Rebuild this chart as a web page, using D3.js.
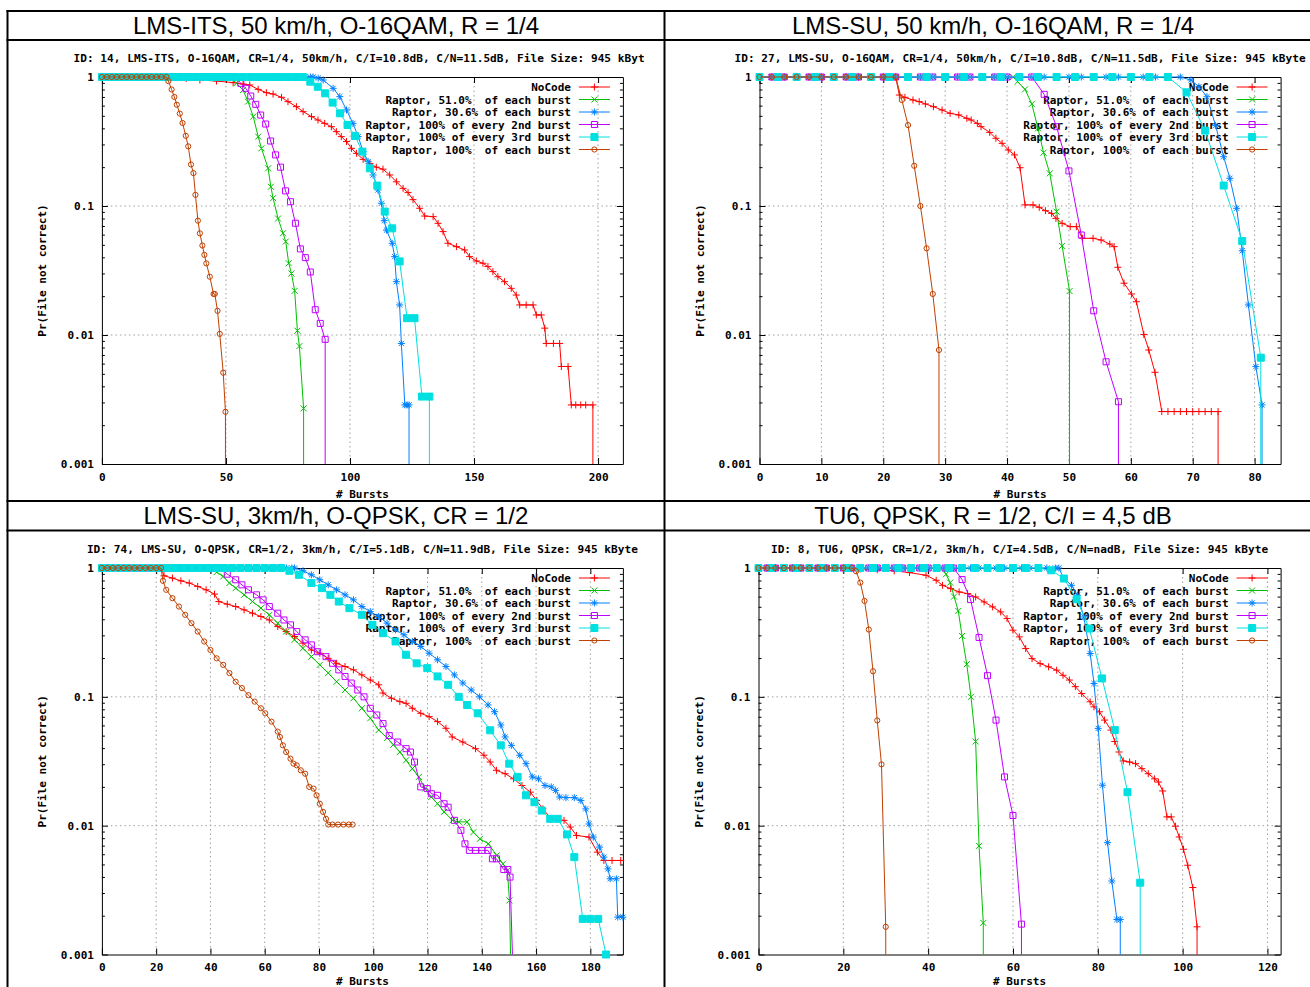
<!DOCTYPE html>
<html><head><meta charset="utf-8">
<script src="https://cdn.jsdelivr.net/npm/d3@7"></script>
<style>
html,body{margin:0;padding:0;background:#fff;}
svg{display:block;}
</style></head><body>
<svg id="chart" width="1310" height="987"></svg>
<script>
// ---------------- DATA ----------------
const panelTitles = ["LMS-ITS, 50 km/h, O-16QAM, R = 1/4","LMS-SU, 50 km/h, O-16QAM, R = 1/4","LMS-SU, 3km/h, O-QPSK, CR = 1/2","TU6, QPSK, R = 1/2, C/I = 4,5 dB"];
const panelSubtitles = [
 "ID: 14, LMS-ITS, O-16QAM, CR=1/4, 50km/h, C/I=10.8dB, C/N=11.5dB, File Size: 945 kByte",
 "ID: 27, LMS-SU, O-16QAM, CR=1/4, 50km/h, C/I=10.8dB, C/N=11.5dB, File Size: 945 kByte",
 "ID: 74, LMS-SU, O-QPSK, CR=1/2, 3km/h, C/I=5.1dB, C/N=11.9dB, File Size: 945 kByte",
 "ID: 8, TU6, QPSK, CR=1/2, 3km/h, C/I=4.5dB, C/N=nadB, File Size: 945 kByte"];
const seriesNames = ["NoCode","Raptor, 51.0%  of each burst","Raptor, 30.6% of each burst","Raptor, 100% of every 2nd burst","Raptor, 100% of every 3rd burst","Raptor, 100%  of each burst"];
const xAxisTitle = "# Bursts";
const yAxisTitle = "Pr(File not correct)";
const yTickValues = [1, 0.1, 0.01, 0.001];
const yTickLabels = ["1", "0.1", "0.01", "0.001"];
const xMaxes = [210, 84.2, 192, 123.1];
const tlXTicks = [0, 50, 100, 150, 200];
const trXTicks = [0, 10, 20, 30, 40, 50, 60, 70, 80];
const blXTicks = [0, 20, 40, 60, 80, 100, 120, 140, 160, 180];
const brXTicks = [0, 20, 40, 60, 80, 100, 120];

// [bursts, probability file not correct]; 0 = no failure (drawn down to the axis)
const tlNoCode = [[0,1],[2,1],[4,1],[6,1],[8,1],[10,1],[12,1],[14,1],[16,1],[18,1],[20,1],[22,1],[24,1],[26,1],[28,1],[30,0.99],[34,0.975],[39.5,0.948],[46.2,0.931],[52.9,0.904],[56.9,0.882],[59.6,0.867],[63,0.802],[66.3,0.756],[69,0.738],[72.4,0.696],[75,0.644],[78.4,0.589],[81.1,0.539],[84.5,0.493],[87.1,0.464],[89.8,0.437],[92.5,0.412],[94.5,0.377],[96.5,0.345],[98.6,0.316],[100.6,0.28],[102.6,0.256],[105.3,0.23],[108,0.214],[110.6,0.2],[113.3,0.193],[116,0.174],[118.7,0.154],[121.4,0.137],[123.4,0.127],[125.4,0.112],[128.1,0.096],[130.1,0.0836],[133.5,0.0827],[135.5,0.0734],[137.5,0.0633],[139.5,0.0514],[142.9,0.0484],[146.2,0.0456],[148.2,0.0405],[150.9,0.0375],[153.6,0.036],[155.6,0.0339],[157.6,0.031],[159.6,0.0283],[162.3,0.0259],[165,0.023],[167,0.0204],[168.4,0.0171],[171,0.0171],[173.8,0.0171],[175.1,0.0143],[177.1,0.0143],[178.5,0.0113],[179.1,0.0086],[182,0.0086],[184.5,0.0086],[185.2,0.0057],[187.9,0.0057],[189.2,0.00287],[191,0.00287],[193,0.00287],[195,0.00287],[197.9,0.00287],[197.9,0]];
const tlRaptor51 = [[0,1],[2,1],[4,1],[6,1],[8,1],[10,1],[12,1],[14,1],[16,1],[18,1],[20,1],[22,1],[24,1],[26,1],[28,1],[30,1],[32,1],[34,1],[36,1],[38,1],[40,1],[42,1],[44,1],[46,1],[48,1],[50,1],[52,1],[54.2,0.893],[56.9,0.793],[58.9,0.644],[61,0.493],[63,0.345],[64.3,0.28],[67,0.196],[68.1,0.141],[69,0.115],[71,0.08],[73,0.0615],[74.1,0.053],[75.3,0.036],[76.4,0.03],[77.7,0.022],[78.8,0.0108],[79.6,0.0082],[81.3,0.0027],[81.3,0]];
const tlRaptor306 = [[0,1],[2,1],[4,1],[6,1],[8,1],[10,1],[12,1],[14,1],[16,1],[18,1],[20,1],[22,1],[24,1],[26,1],[28,1],[30,1],[32,1],[34,1],[36,1],[38,1],[40,1],[42,1],[44,1],[46,1],[48,1],[50,1],[52,1],[54,1],[56,1],[58,1],[60,1],[62,1],[64,1],[66,1],[68,1],[70,1],[72,1],[74,1],[76,1],[78,1],[80,1],[82,1],[84,1],[85.1,1],[87.2,0.98],[89.2,0.948],[93.2,0.817],[95.9,0.704],[98.6,0.555],[101.2,0.437],[103.3,0.345],[105.3,0.264],[107.3,0.221],[109.3,0.174],[111.3,0.133],[112.7,0.105],[113.8,0.077],[114.7,0.065],[117,0.0514],[118,0.0405],[118.7,0.0259],[120,0.0171],[120.7,0.0086],[122.1,0.00287],[123,0.00287],[123.8,0.00287],[123.8,0]];
const tlEvery2nd = [[0,1],[2,1],[4,1],[6,1],[8,1],[10,1],[12,1],[14,1],[16,1],[18,1],[20,1],[22,1],[24,1],[26,1],[28,1],[30,1],[32,1],[34,1],[36,1],[38,1],[40,1],[42,1],[44,1],[46,1],[48,1],[50,1],[52,1],[54,1],[56,0.893],[58,0.817],[60,0.712],[62,0.614],[64,0.507],[66,0.432],[68,0.319],[70,0.249],[72,0.2],[74,0.131],[76,0.108],[78,0.0735],[80,0.0465],[82,0.0398],[84,0.0308],[86,0.0157],[88,0.0123],[90,0.00925],[90,0]];
const tlEvery3rd = [[0,1],[3,1],[6,1],[9,1],[12,1],[15,1],[18,1],[21,1],[24,1],[27,1],[30,1],[33,1],[36,1],[39,1],[42,1],[45,1],[48,1],[51,1],[54,1],[57,1],[60,1],[63,1],[66,1],[69,1],[72,1],[75,1],[78,1],[81,1],[84,0.92],[87,0.84],[90,0.747],[93,0.633],[96,0.523],[99,0.425],[102,0.349],[105,0.264],[108,0.196],[111,0.144],[114,0.0905],[117,0.0671],[120,0.0372],[123,0.0135],[126,0.0135],[129,0.00333],[132,0.00333],[132,0]];
const tlEach100 = [[0,1],[2,1],[4,1],[6,1],[8,1],[10,1],[12,1],[14,1],[16,1],[18,1],[20,1],[22,1],[24,1],[26,1],[26.8,0.93],[28.1,0.8],[29.2,0.7],[30.2,0.61],[31.4,0.52],[32.5,0.44],[33.8,0.35],[34.8,0.29],[35.9,0.21],[36.9,0.18],[37.7,0.122],[38.7,0.077],[39.5,0.0614],[40.5,0.0494],[41.3,0.0418],[42.1,0.0359],[43.5,0.0283],[45,0.0208],[45.5,0.0208],[46.6,0.0154],[47.5,0.0102],[48.9,0.0051],[49.8,0.00254],[49.8,0]];

const trNoCode = [[0,1],[2,1],[4,1],[6,1],[8,1],[10,1],[12,1],[14,1],[16,1],[18,1],[20,1],[22,1],[22.6,0.725],[23.5,0.696],[24.8,0.663],[25.8,0.644],[26.8,0.618],[28.1,0.589],[29.5,0.555],[30.8,0.523],[32.2,0.508],[33.5,0.478],[34.2,0.464],[35.2,0.437],[35.8,0.412],[37.2,0.372],[38.2,0.335],[39.2,0.306],[40.2,0.272],[41.2,0.249],[42.1,0.198],[42.9,0.102],[44.2,0.102],[45.2,0.0977],[46.2,0.092],[47.2,0.0877],[47.9,0.0802],[48.9,0.0734],[50.2,0.0692],[51.2,0.0692],[52.2,0.0562],[53.9,0.0562],[55.2,0.0545],[56.6,0.0507],[57.3,0.0484],[57.9,0.0335],[58.9,0.0252],[60.1,0.0208],[60.9,0.0181],[62.1,0.0101],[62.9,0.00765],[63.9,0.00514],[65,0.00255],[66,0.00255],[67,0.00255],[68,0.00255],[69,0.00255],[70,0.00255],[71,0.00255],[72,0.00255],[73,0.00255],[74.1,0.00255],[74.1,0]];
const trRaptor51 = [[0,1],[2,1],[4,1],[6,1],[8,1],[10,1],[12,1],[14,1],[16,1],[18,1],[20,1],[22,1],[24,1],[26,1],[28,1],[30,1],[32,1],[34,1],[36,1],[38,1],[40,1],[41,1],[41.7,0.92],[42.9,0.802],[44,0.618],[45,0.4],[45.9,0.259],[46.9,0.179],[48,0.0904],[48.9,0.049],[50.1,0.0219],[50.1,0]];
const trRaptor306 = [[0,1],[2,1],[4,1],[6,1],[8,1],[10,1],[12,1],[14,1],[16,1],[18,1],[20,1],[22,1],[24,1],[26,1],[28,1],[30,1],[32,1],[34,1],[36,1],[38,1],[40,1],[42,1],[44,1],[46,1],[48,1],[50,1],[52,1],[54,1],[56,1],[58,1],[60,1],[62,1],[64,1],[66,1],[68,1],[69.7,0.948],[71,0.841],[72.3,0.703],[73.7,0.42],[75,0.241],[76,0.164],[77.1,0.096],[78,0.045],[79,0.0171],[80.2,0.00569],[81.2,0.00287],[81.2,0]];
const trEvery2nd = [[0,1],[2,1],[4,1],[6,1],[8,1],[10,1],[12,1],[14,1],[16,1],[18,1],[20,1],[22,1],[24,1],[26,1],[28,1],[30,1],[32,1],[34,1],[36,1],[38,1],[40,1],[42,1],[44,1],[46,0.734],[48,0.412],[50,0.187],[52,0.0596],[54,0.0154],[56,0.0062],[58,0.00304],[58,0]];
const trEvery3rd = [[0,1],[3,1],[6,1],[9,1],[12,1],[15,1],[18,1],[21,1],[24,1],[27,1],[30,1],[33,1],[36,1],[39,1],[42,1],[45,1],[48,1],[51,1],[54,1],[57,1],[60,1],[63,1],[66,1],[69,0.761],[72,0.384],[75,0.144],[78,0.0535],[81,0.00667],[81,0]];
const trEach100 = [[0,1],[2,1],[4,1],[6,1],[8,1],[10,1],[12,1],[14,1],[16,1],[18,1],[20,1],[22,1],[23,0.663],[24,0.424],[25,0.205],[26,0.1],[27,0.047],[28,0.0208],[29,0.00765],[29,0]];

const blNoCode = [[0,1],[2,1],[4,1],[6,1],[8,1],[10,1],[12,1],[14,1],[16,1],[18,1],[20,1],[21.8,1],[22.9,0.87],[26,0.835],[29.1,0.795],[32.2,0.764],[35.3,0.719],[38.4,0.677],[41.5,0.627],[43.1,0.549],[46.2,0.524],[49.3,0.502],[52.4,0.473],[55.5,0.446],[58.6,0.42],[61.7,0.395],[64.8,0.351],[67.9,0.321],[71,0.294],[74.1,0.261],[77.2,0.231],[80.3,0.218],[83.4,0.199],[86.5,0.182],[89.6,0.172],[92.7,0.162],[95.8,0.148],[98.9,0.135],[102,0.124],[103.6,0.107],[106.7,0.0975],[109.8,0.0918],[112.1,0.0891],[114.4,0.0815],[117.5,0.0745],[120.6,0.0702],[123.7,0.0642],[126.8,0.057],[129.1,0.0488],[133,0.0446],[137.7,0.0396],[140.8,0.0352],[143.1,0.0312],[145.4,0.0269],[148.6,0.0253],[151.7,0.0231],[154.8,0.0205],[157.9,0.0182],[160.2,0.0157],[162.5,0.0135],[165.6,0.0113],[170.3,0.011],[172.6,0.00975],[174.9,0.0084],[179.5,0.00815],[182.6,0.00623],[185,0.00537],[188,0.00537],[191.2,0.00537]];
const blRaptor51 = [[0,1],[2,1],[4,1],[6,1],[8,1],[10,1],[12,1],[14,1],[16,1],[18,1],[20,1],[22,1],[24,1],[26,1],[28,1],[30,1],[32,1],[34,1],[36,1],[38,1],[40,1],[42.3,0.929],[44.7,0.859],[47,0.764],[49.3,0.698],[52.4,0.619],[55.5,0.549],[58.6,0.488],[61.7,0.433],[64.8,0.373],[67.9,0.321],[71,0.277],[74.1,0.238],[77.2,0.205],[80.3,0.177],[83.4,0.153],[86.5,0.131],[89.6,0.113],[92.7,0.0975],[95.8,0.0815],[98.9,0.0682],[102,0.0553],[105.1,0.048],[107.4,0.0425],[109.8,0.0373],[112.1,0.0322],[114.4,0.0277],[116.8,0.0239],[119.1,0.0194],[121.4,0.0167],[123.7,0.0148],[126.1,0.0128],[129.2,0.011],[131.5,0.0107],[134.6,0.0107],[136.9,0.0089],[139.3,0.0079],[142.4,0.00723],[145.5,0.00588],[147.8,0.00506],[149.4,0.00449],[150.2,0.00263],[150.6,0]];
const blRaptor306 = [[0,1],[2,1],[4,1],[6,1],[8,1],[10,1],[12,1],[14,1],[16,1],[18,1],[20,1],[22,1],[24,1],[26,1],[28,1],[30,1],[32,1],[34,1],[36,1],[38,1],[40,1],[42,1],[44,1],[46,1],[48,1],[50,1],[52,1],[54,1],[56,1],[58,1],[60,1],[62,1],[64,1],[66,1],[68,1],[70,1],[71,1],[74.1,0.951],[77.2,0.885],[80.3,0.81],[83.4,0.74],[86.5,0.677],[89.6,0.619],[92.7,0.566],[95.8,0.502],[98.9,0.459],[102,0.42],[105.1,0.373],[108.2,0.331],[111.3,0.303],[114.4,0.269],[117.5,0.246],[120.6,0.218],[123.7,0.194],[126.8,0.172],[129.9,0.148],[133,0.128],[136.1,0.113],[139.2,0.1],[142.3,0.0865],[144.7,0.0767],[147,0.0605],[148.6,0.0488],[150.9,0.042],[154,0.0352],[156.3,0.0303],[158.6,0.0239],[160.9,0.0231],[163.3,0.0205],[165.6,0.02],[167.2,0.0188],[168.7,0.0167],[171,0.0165],[174.1,0.0165],[176.5,0.0157],[178.3,0.0135],[179.5,0.0103],[181.1,0.00815],[183.4,0.00682],[185,0.0057],[186.5,0.00462],[187.3,0.00387],[189.6,0.00387],[190.1,0.00195],[192,0.00195]];
const blEvery2nd = [[0,1],[2,1],[4,1],[6,1],[8,1],[10,1],[12,1],[14,1],[16,1],[18,1],[20,1],[22,1],[24,1],[26,1],[28,1],[30,1],[32,1],[34,1],[36,1],[38,1],[40,1],[42,1],[44,1],[46.2,0.896],[49.3,0.81],[51.6,0.74],[54,0.677],[57,0.619],[59.4,0.566],[61.7,0.502],[64.8,0.446],[67.1,0.395],[69.5,0.362],[71.8,0.321],[74.9,0.277],[77.2,0.253],[79.5,0.224],[82.6,0.205],[85,0.182],[87.3,0.162],[89.6,0.144],[91.9,0.128],[94.3,0.113],[96.6,0.1],[98.9,0.0815],[101.3,0.0723],[103.6,0.062],[105.9,0.05],[109,0.0446],[112.1,0.0396],[113.7,0.0373],[115.2,0.0312],[117.5,0.02],[119.9,0.0194],[121.4,0.0177],[123.7,0.0172],[126.1,0.0148],[127.6,0.0139],[129.9,0.011],[132.3,0.0092],[133.8,0.00723],[135.4,0.00643],[137.7,0.00643],[140,0.00643],[142.3,0.00643],[143.9,0.00553],[145.4,0.00553],[148.1,0.00457],[149.6,0.00457],[150.4,0.00399],[151.3,0]];
const blEvery3rd = [[0,1],[3,1],[6,1],[9,1],[12,1],[15,1],[18,1],[21,1],[24,1],[27,1],[30,1],[33,1],[36,1],[39,1],[42,1],[45,1],[48,1],[51,1],[54,1],[57,1],[60,1],[63,1],[66,1],[69.1,0.951],[72.6,0.885],[77.2,0.764],[81.1,0.698],[84.2,0.619],[87.3,0.549],[91.2,0.488],[95.8,0.433],[99.7,0.362],[103.6,0.312],[108.2,0.269],[112.1,0.212],[116,0.182],[119.9,0.167],[123.7,0.144],[127.6,0.124],[131.5,0.1],[134.6,0.0865],[138.5,0.0745],[143.1,0.055],[147,0.042],[150.1,0.0303],[153.2,0.0239],[156.3,0.0172],[159.4,0.0152],[162.1,0.0131],[165.2,0.0113],[168,0.0113],[171.4,0.00855],[174.1,0.0057],[177.2,0.00189],[180,0.00189],[182.9,0.00189],[185.8,0.001]];
const blEach100 = [[0,1],[2,1],[4,1],[6,1],[8,1],[10,1],[12,1],[14,1],[16,1],[18,1],[20,1],[21.8,1],[22.5,0.795],[23.7,0.677],[26,0.583],[28.4,0.502],[30.7,0.433],[33,0.373],[35.3,0.321],[37.7,0.269],[40,0.231],[42.3,0.199],[44.7,0.177],[47,0.153],[49.3,0.131],[51.6,0.117],[54,0.103],[56.3,0.0918],[58.6,0.0815],[60.2,0.0745],[62.5,0.0642],[64.8,0.0537],[65.6,0.0488],[66.7,0.042],[67.9,0.0373],[69.5,0.0331],[70.6,0.0303],[71.8,0.0294],[73.3,0.0269],[74.9,0.0253],[76.4,0.02],[78,0.0194],[79.1,0.0172],[80.3,0.0148],[81.5,0.0128],[82.6,0.0113],[83.4,0.0102],[85,0.0102],[87,0.0102],[89,0.0102],[91,0.0102],[92.4,0.0102]];

const brNoCode = [[0,1],[2,1],[4,1],[6,1],[8,1],[10,1],[12,1],[14,1],[16,1],[18,1],[20,1],[22,1],[24,0.985],[28,0.97],[32,0.95],[35.6,0.921],[39.5,0.878],[41.9,0.803],[43.4,0.734],[45.3,0.692],[47.3,0.652],[49.3,0.633],[51.2,0.596],[53.2,0.545],[55.2,0.499],[57.1,0.456],[58.6,0.405],[60,0.329],[61.5,0.292],[63,0.237],[64.5,0.198],[66.4,0.181],[68.4,0.171],[70.3,0.161],[71.8,0.147],[73.3,0.135],[74.7,0.12],[76.2,0.106],[78.2,0.0915],[79.1,0.0836],[80.4,0.0765],[81.6,0.066],[83.1,0.0552],[84,0.045],[85,0.0373],[86,0.0318],[87.5,0.0312],[88.9,0.0303],[90.4,0.0277],[91.9,0.0253],[93.4,0.0231],[94.3,0.0218],[95.3,0.0186],[96.3,0.0117],[97.3,0.0117],[98.3,0.0099],[99.2,0.00817],[100.2,0.00656],[101.2,0.00493],[102.4,0.00331],[103.4,0.00164],[103.4,0]];
const brRaptor51 = [[0,1],[2,1],[4,1],[6,1],[8,1],[10,1],[12,1],[14,1],[16,1],[18,1],[20,1],[22,1],[24,1],[26,1],[28,1],[30,1],[32,1],[34,1],[36,1],[38,1],[40,1],[42,1],[43.4,1],[44.2,0.894],[45.2,0.77],[46.1,0.6],[47.1,0.464],[48,0.297],[49.1,0.179],[50.1,0.1],[51.2,0.045],[52,0.00697],[53,0.00176],[53,0]];
const brRaptor306 = [[0,1],[2,1],[4,1],[6,1],[8,1],[10,1],[12,1],[14,1],[16,1],[18,1],[20,1],[22,1],[24,1],[26,1],[28,1],[30,1],[32,1],[34,1],[36,1],[38,1],[40,1],[42,1],[44,1],[46,1],[48,1],[50,1],[52,1],[54,1],[56,1],[58,1],[60,1],[62,1],[64,1],[66,1],[68,1],[70,1],[70.8,1],[72,0.828],[73.8,0.734],[75.2,0.614],[76.7,0.417],[78.2,0.217],[79.1,0.127],[80.1,0.0569],[81.1,0.0206],[82.3,0.00738],[83.3,0.00372],[84.5,0.00187],[85.3,0.00187],[85.3,0]];
const brEvery2nd = [[0,1],[2,1],[4,1],[6,1],[8,1],[10,1],[12,1],[14,1],[16,1],[18,1],[20,1],[22,1],[24,1],[26,1],[28,1],[30,1],[32,1],[34,1],[36,1],[38,1],[40,1],[42,1],[44,1],[46,1],[48,0.813],[50,0.569],[52,0.289],[54,0.146],[56,0.066],[58,0.0239],[60,0.012],[62,0.00172],[62,0]];
const brEvery3rd = [[0,1],[3,1],[6,1],[9,1],[12,1],[15,1],[18,1],[21,1],[24,1],[27,1],[30,1],[33,1],[36,1],[39,1],[42,1],[45,1],[48,1],[51,1],[54,1],[57,1],[60,1],[63,1],[66,1],[69,0.96],[72,0.828],[75,0.572],[78,0.339],[81,0.139],[84,0.0552],[87,0.0182],[90,0.00361],[90,0]];
const brEach100 = [[0,1],[2,1],[4,1],[6,1],[8,1],[10,1],[12,1],[14,1],[16,1],[18,1],[20,1],[22,1],[23,0.943],[24,0.77],[25,0.555],[26,0.333],[27,0.158],[28,0.0656],[29,0.0299],[30,0.00164],[30,0]];

// ---------------- STYLE / LAYOUT ----------------
const colors = ["#ff0000","#00c000","#0080ff","#c000ff","#00e0e0","#c04000"];
const markerTypes = ["plus","cross","star","square","fsquare","circle"];
const monoFont = "'DejaVu Sans Mono', 'Liberation Mono', monospace";
const panels = [
  {title: panelTitles[0], sub: panelSubtitles[0], xMax: xMaxes[0], xTicks: tlXTicks, series: [tlNoCode, tlRaptor51, tlRaptor306, tlEvery2nd, tlEvery3rd, tlEach100],
   x0: 101.9, x1: 622.9, y0: 77, y1: 464, titleX: 336, titleY: 34, clipL: 8, clipR: 644},
  {title: panelTitles[1], sub: panelSubtitles[1], xMax: xMaxes[1], xTicks: trXTicks, series: [trNoCode, trRaptor51, trRaptor306, trEvery2nd, trEvery3rd, trEach100],
   x0: 759.5, x1: 1280.6, y0: 77, y1: 464, titleX: 993, titleY: 34, clipL: 666, clipR: 1310},
  {title: panelTitles[2], sub: panelSubtitles[2], xMax: xMaxes[2], xTicks: blXTicks, series: [blNoCode, blRaptor51, blRaptor306, blEvery2nd, blEvery3rd, blEach100],
   x0: 101.9, x1: 622.9, y0: 568, y1: 954.5, titleX: 336, titleY: 524, clipL: 8, clipR: 644},
  {title: panelTitles[3], sub: panelSubtitles[3], xMax: xMaxes[3], xTicks: brXTicks, series: [brNoCode, brRaptor51, brRaptor306, brEvery2nd, brEvery3rd, brEach100],
   x0: 758.5, x1: 1280.6, y0: 568, y1: 954.5, titleX: 993, titleY: 524, clipL: 666, clipR: 1310}
];

const svg = d3.select("#chart");
svg.append("rect").attr("width",1310).attr("height",987).attr("fill","#fff");

function markerPath(type, x, y) {
  switch (type) {
    case "plus": return `M${x-3.5},${y}H${x+3.5}M${x},${y-3.5}V${y+3.5}`;
    case "cross": return `M${x-3},${y-3}L${x+3},${y+3}M${x-3},${y+3}L${x+3},${y-3}`;
    case "star": return `M${x-3.5},${y}H${x+3.5}M${x},${y-3.5}V${y+3.5}M${x-2.6},${y-2.6}L${x+2.6},${y+2.6}M${x-2.6},${y+2.6}L${x+2.6},${y-2.6}`;
    case "square": return `M${x-3},${y-3}H${x+3}V${y+3}H${x-3}Z`;
    case "fsquare": return `M${x-3.5},${y-3.5}H${x+3.5}V${y+3.5}H${x-3.5}Z`;
    case "circle": return `M${x-2.6},${y}A2.6,2.6 0 1,0 ${x+2.6},${y}A2.6,2.6 0 1,0 ${x-2.6},${y}Z`;
  }
}

panels.forEach((P, pi) => {
  const g = svg.append("g");
  const x = d3.scaleLinear().domain([0, P.xMax]).range([P.x0, P.x1]);
  const y = d3.scaleLog().domain([0.001, 1]).range([P.y1, P.y0]);
  const yPos = p => y(Math.max(p, 0.001));

  // title
  g.append("text").attr("x", P.titleX).attr("y", P.titleY).attr("text-anchor","middle")
    .attr("font-family","'Liberation Sans', Arial, sans-serif").attr("font-size",24).attr("fill","#000").text(P.title);

  // subtitle (clipped to the panel image)
  const cid = "clipsub" + pi;
  svg.append("clipPath").attr("id", cid).append("rect")
    .attr("x", P.clipL).attr("y", P.y0 - 40).attr("width", P.clipR - P.clipL).attr("height", 40);
  g.append("text").attr("clip-path", `url(#${cid})`)
    .attr("x", (P.x0 + P.x1) / 2).attr("y", P.y0 - 15).attr("text-anchor","middle")
    .attr("font-family", monoFont).attr("font-weight","bold").attr("font-size",11.1).attr("fill","#000")
    .attr("textLength", P.sub.length * 6.72).attr("lengthAdjust","spacing")
    .style("white-space","pre").text(P.sub);

  // grid
  const grid = g.append("g").attr("stroke","#a0a0a0").attr("stroke-width",1).attr("stroke-dasharray","1.5,3");
  P.xTicks.filter(t => t > 0 && x(t) < P.x1 - 1).forEach(t => {
    grid.append("line").attr("x1", x(t)).attr("x2", x(t)).attr("y1", P.y0).attr("y2", P.y1);
  });
  yTickValues.filter(t => t < 1 && t > 0.001).forEach(t => {
    grid.append("line").attr("x1", P.x0).attr("x2", P.x1).attr("y1", y(t)).attr("y2", y(t));
  });

  // axes
  const styleAxis = sel => {
    sel.attr("font-family", monoFont).attr("font-weight","bold").attr("font-size", 11);
    sel.selectAll("path.domain").attr("stroke","#000");
    sel.selectAll("line").attr("stroke","#000");
    sel.selectAll("text").attr("fill","#000");
  };
  g.append("g").attr("transform",`translate(${P.x0},0)`)
    .call(d3.axisLeft(y).tickValues(yTickValues).tickFormat((d,i) => yTickLabels[i]).tickSizeInner(-6).tickSizeOuter(0).tickPadding(8))
    .call(styleAxis);
  g.append("g").attr("transform",`translate(${P.x1},0)`)
    .call(d3.axisRight(y).tickValues(yTickValues).tickFormat("").tickSizeInner(-6).tickSizeOuter(0))
    .call(styleAxis);
  const minor = y.ticks().filter(t => !yTickValues.includes(t));
  g.append("g").attr("transform",`translate(${P.x0},0)`)
    .call(d3.axisLeft(y).tickValues(minor).tickFormat("").tickSizeInner(-3).tickSizeOuter(0))
    .call(styleAxis).select("path.domain").remove();
  g.append("g").attr("transform",`translate(${P.x1},0)`)
    .call(d3.axisRight(y).tickValues(minor).tickFormat("").tickSizeInner(-3).tickSizeOuter(0))
    .call(styleAxis).select("path.domain").remove();
  g.append("g").attr("transform",`translate(0,${P.y1})`)
    .call(d3.axisBottom(x).tickValues(P.xTicks).tickFormat(d3.format("d")).tickSizeInner(-6).tickSizeOuter(0).tickPadding(9))
    .call(styleAxis);
  g.append("g").attr("transform",`translate(0,${P.y0})`)
    .call(d3.axisTop(x).tickValues(P.xTicks).tickFormat("").tickSizeInner(-6).tickSizeOuter(0))
    .call(styleAxis);

  // axis titles
  g.append("text").attr("x", (P.x0 + P.x1) / 2).attr("y", Math.min(P.y1 + 34, 985)).attr("text-anchor","middle")
    .attr("font-family", monoFont).attr("font-weight","bold").attr("font-size",11).attr("fill","#000").text(xAxisTitle);
  g.append("text").attr("transform", `translate(${P.x0 - 56},${(P.y0 + P.y1) / 2}) rotate(-90)`).attr("text-anchor","middle")
    .attr("font-family", monoFont).attr("font-weight","bold").attr("font-size",11).attr("fill","#000").text(yAxisTitle);

  // legend (drawn before curves, curves pass over it)
  seriesNames.forEach((name, i) => {
    const ly = P.y0 + 10 + i * 12.5;
    g.append("text").attr("x", P.x1 - 52).attr("y", ly + 4).attr("text-anchor","end")
      .attr("font-family", monoFont).attr("font-weight","bold").attr("font-size",11).attr("fill","#000")
      .style("white-space","pre").text(name);
    g.append("line").attr("x1", P.x1 - 44).attr("x2", P.x1 - 13).attr("y1", ly).attr("y2", ly)
      .attr("stroke", colors[i]).attr("stroke-width", 1);
    const mt = markerTypes[i];
    g.append("path").attr("d", markerPath(mt, P.x1 - 28.5, ly))
      .attr("stroke", colors[i]).attr("stroke-width", 1)
      .attr("fill", mt === "fsquare" ? colors[i] : "none");
  });

  // curves
  P.series.forEach((data, i) => {
    const line = d3.line().x(d => x(d[0])).y(d => yPos(d[1]));
    g.append("path").datum(data).attr("d", line)
      .attr("fill","none").attr("stroke", colors[i]).attr("stroke-width", 1);
    const mt = markerTypes[i];
    const d = data.filter(p => p[1] > 0).map(p => markerPath(mt, x(p[0]), yPos(p[1]))).join("");
    g.append("path").attr("d", d).attr("stroke", colors[i]).attr("stroke-width", 1)
      .attr("fill", mt === "fsquare" ? colors[i] : "none");
  });
});

// table frame
const frame = svg.append("g").attr("stroke","#000").attr("stroke-width",2);
frame.append("line").attr("x1",6.5).attr("x2",1310).attr("y1",11).attr("y2",11);
frame.append("line").attr("x1",6.5).attr("x2",1310).attr("y1",40).attr("y2",40);
frame.append("line").attr("x1",6.5).attr("x2",1310).attr("y1",501).attr("y2",501);
frame.append("line").attr("x1",6.5).attr("x2",1310).attr("y1",530.5).attr("y2",530.5);
frame.append("line").attr("x1",7.5).attr("x2",7.5).attr("y1",10).attr("y2",987);
frame.append("line").attr("x1",664.5).attr("x2",664.5).attr("y1",10).attr("y2",987);
</script>
</body></html>
